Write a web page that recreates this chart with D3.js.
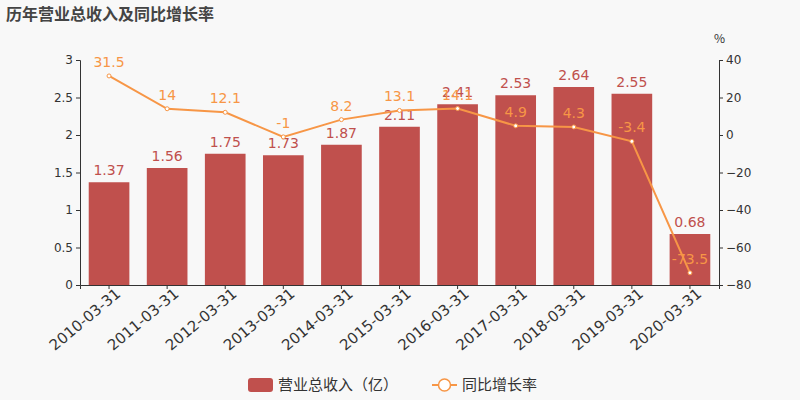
<!DOCTYPE html>
<html><head><meta charset="utf-8">
<script src="https://cdn.jsdelivr.net/npm/d3@7"></script>
<style>body{margin:0;background:#f8f8f8;font-family:"Noto Sans CJK SC","DejaVu Sans",sans-serif}</style>
</head><body><svg width="800" height="400"></svg>
<script>
const categories=["2010-03-31","2011-03-31","2012-03-31","2013-03-31","2014-03-31","2015-03-31","2016-03-31","2017-03-31","2018-03-31","2019-03-31","2020-03-31"];
const revenue=[1.37,1.56,1.75,1.73,1.87,2.11,2.41,2.53,2.64,2.55,0.68];
const growth=[31.5,14,12.1,-1,8.2,13.1,14.1,4.9,4.3,-3.4,-73.5];
const leftTicks=[0,0.5,1,1.5,2,2.5,3];
const rightTicks=[-80,-60,-40,-20,0,20,40];
const barC="#c0504d",lineC="#f79646",txt="#333";
const svg=d3.select("svg");
svg.append("rect").attr("width",800).attr("height",400).attr("fill","#f8f8f8");
const x=d3.scaleBand().domain(categories).range([80,719]).paddingInner(0.3).paddingOuter(0.15);
const yL=d3.scaleLinear().domain([0,3]).range([285,60]);
const yR=d3.scaleLinear().domain([-80,40]).range([285,60]);
svg.append("text").attr("x",6).attr("y",20).attr("font-size",16).attr("font-weight","bold").attr("fill","#444").text("历年营业总收入及同比增长率");
const gL=svg.append("g").attr("transform","translate(80,0)").call(d3.axisLeft(yL).tickValues(leftTicks).tickFormat(d=>d).tickSize(4));
const gR=svg.append("g").attr("transform","translate(719,0)").call(d3.axisRight(yR).tickValues(rightTicks).tickSize(4));
const gX=svg.append("g").attr("transform","translate(0,285)").call(d3.axisBottom(x).tickSize(4));
[gL,gR,gX].forEach(g=>{g.selectAll("path,line").attr("stroke","#333");g.selectAll("text").attr("fill",txt).attr("font-size",12).attr("font-family","DejaVu Sans");});
gX.selectAll("text").attr("font-size",15).attr("text-anchor","end").attr("dx","0.2em").attr("dy","0.6em").attr("transform","rotate(-40)");
svg.append("text").attr("x",714).attr("y",43).attr("font-size",12).attr("fill",txt).text("%");
svg.selectAll(".bar").data(revenue).enter().append("rect").attr("x",(d,i)=>x(categories[i])).attr("width",x.bandwidth()).attr("y",d=>yL(d)).attr("height",d=>285-yL(d)).attr("fill",barC);
svg.selectAll(".bl").data(revenue).enter().append("text").attr("x",(d,i)=>x(categories[i])+x.bandwidth()/2).attr("y",d=>yL(d)-7).attr("text-anchor","middle").attr("font-size",14).attr("font-family","DejaVu Sans").attr("fill",barC).text(d=>d);
const cx=(i)=>x(categories[i])+x.bandwidth()/2;
svg.append("path").datum(growth).attr("d",d3.line().x((d,i)=>cx(i)).y(d=>yR(d))).attr("fill","none").attr("stroke",lineC).attr("stroke-width",2);
svg.selectAll(".pt").data(growth).enter().append("circle").attr("cx",(d,i)=>cx(i)).attr("cy",d=>yR(d)).attr("r",2).attr("fill","#fff").attr("stroke",lineC);
svg.selectAll(".ll").data(growth).enter().append("text").attr("x",(d,i)=>cx(i)).attr("y",d=>yR(d)-9).attr("text-anchor","middle").attr("font-size",14).attr("font-family","DejaVu Sans").attr("fill",lineC).text(d=>d);
const lg=svg.append("g");
lg.append("rect").attr("x",248).attr("y",378).attr("width",25).attr("height",14).attr("rx",3).attr("fill",barC);
lg.append("text").attr("x",278).attr("y",390).attr("font-size",15).attr("fill",txt).text("营业总收入（亿）");
lg.append("line").attr("x1",432).attr("x2",457).attr("y1",385).attr("y2",385).attr("stroke",lineC).attr("stroke-width",2);
lg.append("circle").attr("cx",444.5).attr("cy",385).attr("r",6).attr("fill","#fff").attr("stroke",lineC).attr("stroke-width",1.5);
lg.append("text").attr("x",462).attr("y",390).attr("font-size",15).attr("fill",txt).text("同比增长率");
</script></body></html>
